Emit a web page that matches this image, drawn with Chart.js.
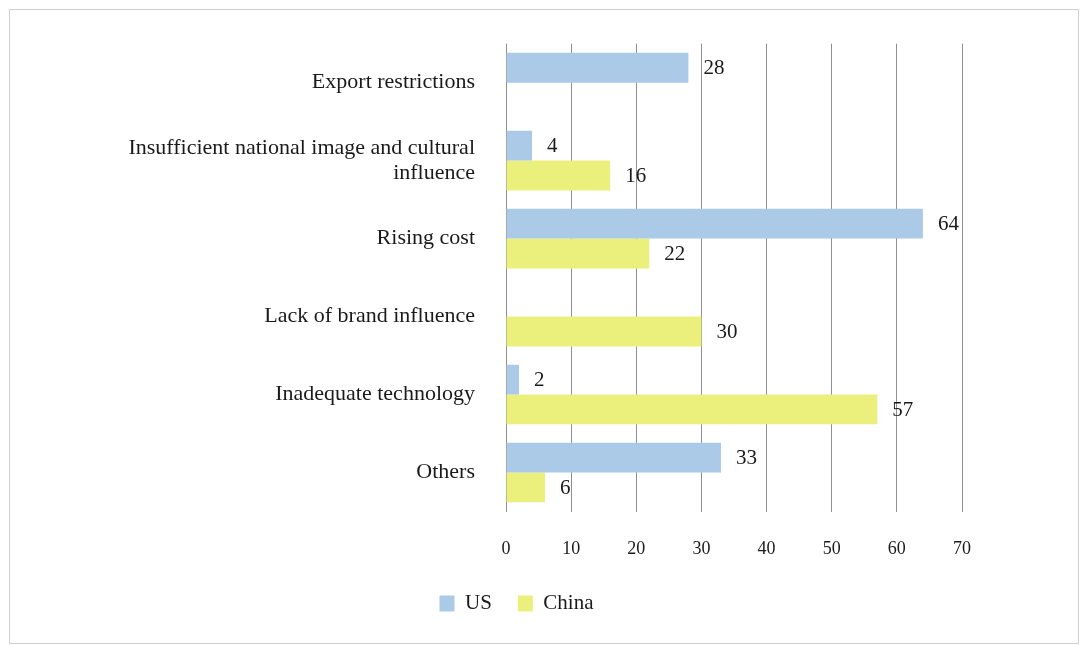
<!DOCTYPE html>
<html>
<head>
<meta charset="utf-8">
<script src="https://cdn.jsdelivr.net/npm/chart.js@4/dist/chart.umd.min.js"></script>
<style>
    html, body { margin: 0; padding: 0; background: #fff; }
    #cornice { position: absolute; left: 9px; top: 9px; width: 1068px; height: 633px; border: 1px solid #cfcfcf; }
    #grafico { position: absolute; left: 0; top: 0; }
</style>
</head>
<body>
<div id="cornice"></div>
<canvas id="grafico" width="1080" height="645"></canvas>
<script>
// dati del grafico
const categorie = [
    "Export restrictions",
    ["Insufficient national image and cultural", "influence"],
    "Rising cost",
    "Lack of brand influence",
    "Inadequate technology",
    "Others"
];
const valoriUS = [28, 4, 64, null, 2, 33];
const valoriCina = [null, 16, 22, 30, 57, 6];
const tickX = [0, 10, 20, 30, 40, 50, 60, 70];

const coloreUS = "#aacae8";
const coloreCina = "#ebf07c";
const serif = "'Liberation Serif', 'Times New Roman', serif";

// etichette con il valore a destra di ogni barra
const etichetteValori = {
    id: "etichetteValori",
    afterDatasetsDraw(chart) {
        const ctx = chart.ctx;
        ctx.save();
        ctx.font = "21px " + serif;
        ctx.fillStyle = "#1a1a1a";
        ctx.textAlign = "left";
        ctx.textBaseline = "middle";
        chart.data.datasets.forEach((ds, i) => {
            chart.getDatasetMeta(i).data.forEach((barra, j) => {
                const v = ds.data[j];
                if (v === null) return;
                ctx.fillText(String(v), barra.x + 15, barra.y + 1);
            });
        });
        ctx.restore();
    }
};

const grafico = new Chart(document.getElementById("grafico"), {
    type: "bar",
    data: {
        labels: categorie,
        datasets: [
            { label: "US", data: valoriUS, backgroundColor: coloreUS, borderWidth: 0 },
            { label: "China", data: valoriCina, backgroundColor: coloreCina, borderWidth: 0 }
        ]
    },
    options: {
        indexAxis: "y",
        responsive: false,
        animation: false,
        categoryPercentage: 0.765,
        barPercentage: 1,
        layout: { padding: { left: 71, right: 118, top: 40, bottom: 21 } },
        scales: {
            x: {
                min: 0,
                max: 70,
                afterBuildTicks(scale) {
                    scale.ticks = tickX.map(v => ({ value: v }));
                },
                afterFit(scale) { scale.height = 55.5; },
                grid: { color: "#8f8f8f", lineWidth: 1, drawTicks: false },
                border: { display: false },
                ticks: {
                    padding: 27,
                    color: "#1a1a1a",
                    font: { family: serif, size: 18 }
                }
            },
            y: {
                afterFit(scale) { scale.width = 435; },
                grid: { display: false, drawTicks: false },
                border: { display: false },
                ticks: {
                    padding: 31,
                    color: "#1a1a1a",
                    font: { family: serif, size: 22, lineHeight: 1.15 }
                }
            }
        },
        plugins: {
            legend: {
                position: "bottom",
                labels: {
                    boxWidth: 15,
                    boxHeight: 16,
                    padding: 26,
                    color: "#1a1a1a",
                    font: { family: serif, size: 21 }
                }
            },
            tooltip: { enabled: false }
        }
    },
    plugins: [etichetteValori]
});
</script>
</body>
</html>
